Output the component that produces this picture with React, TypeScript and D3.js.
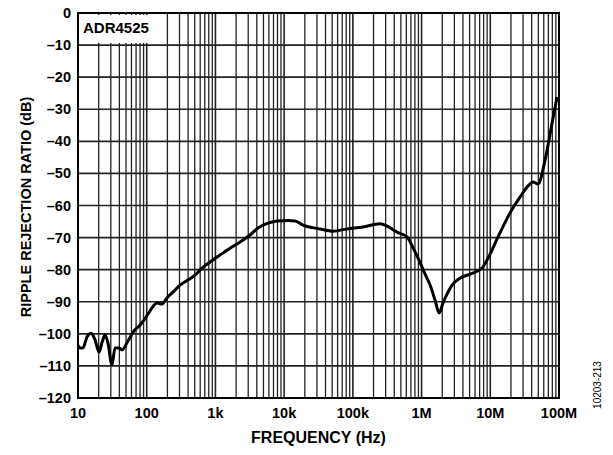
import React from "react";
import * as d3 from "d3";

const freqHz = [10, 10.7, 11.8, 13.5, 15.5, 17.7, 20.2, 22.4, 24.7, 27.3, 31.2, 34.6, 39.5, 43.7, 53.5, 65.3, 79.8, 97.7, 116, 141, 167, 197, 241, 305, 399, 505, 638, 834, 1166, 1631, 2280, 3187, 4167, 5824, 7870, 11380, 14400, 18830, 33290, 51400, 82200, 140600, 248700, 314400, 439600, 615000, 751600, 889000, 1.087e6, 1.33e6, 1.57e6, 1.8e6, 2.05e6, 2.78e6, 3.63e6, 5.07e6, 7.59e6, 8.97e6, 12.97e6, 19.4e6, 27.1e6, 35.5e6, 41.9e6, 49.5e6, 62.7e6, 79.3e6, 93.8e6];
const rrrDb = [-103.5, -104.4, -104.4, -101.0, -99.8, -101.9, -105.7, -102.6, -100.4, -102.9, -109.7, -104.4, -104.4, -105.0, -102.2, -99.1, -97.3, -94.8, -92.3, -90.4, -90.7, -88.8, -87.0, -84.8, -83.2, -81.7, -79.5, -77.6, -75.4, -73.3, -71.4, -69.2, -67.0, -65.5, -64.8, -64.7, -64.8, -66.1, -67.3, -68.0, -67.3, -66.7, -65.7, -66.4, -68.3, -69.8, -73.2, -76.4, -80.7, -84.8, -89.5, -93.5, -90.4, -84.8, -82.6, -81.4, -79.5, -77.0, -69.8, -62.3, -57.4, -53.9, -52.7, -53.3, -45.8, -34.3, -26.2];

const xTickValues = [10, 100, 1e3, 1e4, 1e5, 1e6, 1e7, 1e8];
const xTickLabels = ["10", "100", "1k", "10k", "100k", "1M", "10M", "100M"];
const yTickValues = [0, -10, -20, -30, -40, -50, -60, -70, -80, -90, -100, -110, -120];
const yTickLabels = ["0", "–10", "–20", "–30", "–40", "–50", "–60", "–70", "–80", "–90", "–100", "–110", "–120"];

const W = 613, H = 455;
const L = 78, R = 559, T = 13, B = 398;

export default function App() {
  const x = d3.scaleLog().domain([10, 1e8]).range([L, R]);
  const y = d3.scaleLinear().domain([-120, 0]).range([B, T]);
  const minor: number[] = [];
  for (let e = 1; e < 8; e++) for (let k = 2; k <= 9; k++) minor.push(k * Math.pow(10, e));
  const line = d3.line<number>().x((_, i) => x(freqHz[i])).y((d) => y(d)).curve(d3.curveMonotoneX);
  const font = "'Liberation Sans', Arial, sans-serif";
  return (
    <svg width={W} height={H} style={{ position: "absolute", left: 0, top: 0, background: "#fff" }}>
      <g stroke="#222" strokeWidth={1.3}>
        {minor.map((f) => (
          <line key={"m" + f} x1={x(f)} x2={x(f)} y1={T} y2={B} />
        ))}
        {xTickValues.map((f) => (
          <line key={"M" + f} x1={x(f)} x2={x(f)} y1={T} y2={B} strokeWidth={1.6} />
        ))}
        {yTickValues.map((v) => (
          <line key={"h" + v} x1={L} x2={R} y1={y(v)} y2={y(v)} strokeWidth={1.6} />
        ))}
      </g>
      <rect x={L + 1} y={T + 2} width={86} height={28} fill="#fff" />
      <text x={83} y={33} fontFamily={font} fontWeight="bold" fontSize={15}>ADR4525</text>
      <path d={line(rrrDb) || ""} fill="none" stroke="#000" strokeWidth={3} strokeLinejoin="round" />
      <rect x={L} y={T} width={R - L} height={B - T} fill="none" stroke="#000" strokeWidth={2} />
      <g fontFamily={font} fontWeight="bold" fontSize={14.5}>
        {yTickValues.map((v, i) => (
          <text key={"yl" + v} x={71} y={y(v) + 5} textAnchor="end">{yTickLabels[i]}</text>
        ))}
        {xTickValues.map((f, i) => (
          <text key={"xl" + f} x={x(f)} y={418} textAnchor="middle">{xTickLabels[i]}</text>
        ))}
        <text x={(L + R) / 2} y={443} textAnchor="middle" fontSize={16}>FREQUENCY (Hz)</text>
        <text transform={`translate(31, 207) rotate(-90)`} textAnchor="middle">RIPPLE REJECTION RATIO (dB)</text>
      </g>
      <text transform="translate(601, 385) rotate(-90)" textAnchor="middle" fontFamily={font} fontSize={10}>10203-213</text>
    </svg>
  );
}
